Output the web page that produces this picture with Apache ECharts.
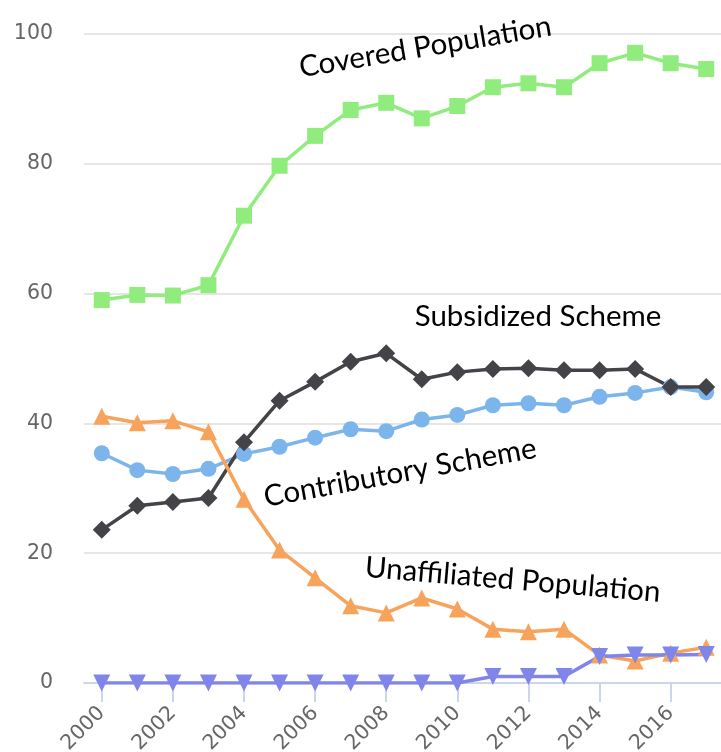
<!DOCTYPE html>
<html><head><meta charset="utf-8">
<script src="https://cdn.jsdelivr.net/npm/echarts@6/dist/echarts.min.js"></script>
<style>html,body{margin:0;padding:0;background:#fff}#c{width:721px;height:752px}</style>
</head><body><div id="c"></div>
<script>
const years = ['2000','2001','2002','2003','2004','2005','2006','2007','2008','2009','2010','2011','2012','2013','2014','2015','2016','2017'];
const contributory = [35.4,32.8,32.2,33.0,35.3,36.4,37.8,39.1,38.8,40.6,41.3,42.8,43.1,42.8,44.1,44.7,45.6,44.8];
const subsidized = [23.6,27.3,27.9,28.5,37.1,43.5,46.4,49.5,50.8,46.8,47.9,48.4,48.5,48.2,48.2,48.4,45.6,45.6];
const covered = [59.0,59.8,59.7,61.3,72.0,79.7,84.3,88.3,89.4,87.0,88.9,91.8,92.4,91.8,95.5,97.1,95.5,94.6];
const unaffiliated = [41.1,40.1,40.4,38.7,28.3,20.5,16.2,11.9,10.8,13.1,11.4,8.3,7.9,8.3,4.3,3.4,4.6,5.5];
const other = [0,0,0,0,0,0,0,0,0,0,0,1.0,1.0,1.0,4.1,4.3,4.3,4.4];
const yTicks = [0,20,40,60,80,100];
const notes = [
  {text:'Covered Population', x:9.1, y:98.0, rot:0.165},
  {text:'Subsidized Scheme', x:12.27, y:56.4, rot:0},
  {text:'Contributory Scheme', x:8.39, y:32.4, rot:0.18},
  {text:'Unaffiliated Population', x:11.56, y:15.9, rot:-0.085}
];

const chart = echarts.init(document.getElementById('c'));
function s(name, data, color, symbol, size){
  return {name, type:'line', data, symbol, symbolSize:size, showSymbol:true,
    lineStyle:{color, width:3.5}, itemStyle:{color}, emphasis:{disabled:true}, z:2};
}
chart.setOption({
  animation:false,
  grid:{left:84, right:-3, top:34, bottom:69, containLabel:false, outerBoundsMode:'none'},
  xAxis:{type:'category', data:years, boundaryGap:true,
    axisLine:{lineStyle:{color:'#ccd6eb', width:2}},
    axisTick:{show:true, alignWithLabel:true, interval:1, length:19, lineStyle:{color:'#ccd6eb', width:2}},
    axisLabel:{interval:1, rotate:45, color:'#666', fontFamily:'DejaVu Sans', fontSize:20.5, margin:27, hideOverlap:false},
    splitLine:{show:false}},
  yAxis:{type:'value', min:yTicks[0], max:yTicks[yTicks.length-1], interval:20,
    axisLine:{show:false}, axisTick:{show:false},
    axisLabel:{color:'#666', fontFamily:'DejaVu Sans', fontSize:20.5, margin:31},
    splitLine:{lineStyle:{color:'#e6e6e6', width:2}}},
  series:[
    s('Contributory Scheme', contributory, '#7cb5ec', 'circle', 16),
    s('Subsidized Scheme', subsidized, '#434348', 'diamond', 18),
    s('Covered Population', covered, '#90ed7d', 'rect', 16),
    s('Unaffiliated Population', unaffiliated, '#f7a35c', 'triangle', 17),
    s('Other', other, '#8085e9', 'path://M0,0 L10,0 L5,9 Z', 17)
  ]
});
function toPx(xv, yv){
  const i0 = Math.floor(xv), i1 = Math.min(i0 + 1, years.length - 1), f = xv - i0;
  const a = chart.convertToPixel({gridIndex:0}, [i0, yv]);
  const b = chart.convertToPixel({gridIndex:0}, [i1, yv]);
  return [a[0] + (b[0] - a[0]) * f, a[1]];
}
const g = notes.map(n => {
  const p = toPx(n.x, n.y);
  return {type:'text', x:p[0], y:p[1], rotation:n.rot, originX:0, originY:0, z:10,
    style:{text:n.text, fill:'#000', font:'29.5px Lato', align:'center', verticalAlign:'middle'}};
});
chart.setOption({graphic:g});
</script></body></html>
